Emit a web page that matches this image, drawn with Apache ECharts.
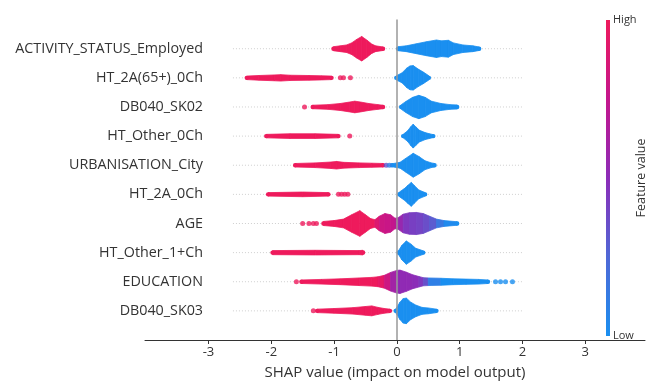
<!DOCTYPE html>
<html>
<head>
<meta charset="utf-8">
<script src="https://cdn.jsdelivr.net/npm/echarts@6/dist/echarts.min.js"></script>
<style>
  html, body { margin: 0; padding: 0; background: #fff; }
  #chart { width: 657px; height: 385px; }
</style>
</head>
<body>
<div id="chart"></div>
<script>
// feature names, top to bottom
const features = ['ACTIVITY_STATUS_Employed', 'HT_2A(65+)_0Ch', 'DB040_SK02', 'HT_Other_0Ch', 'URBANISATION_City',
  'HT_2A_0Ch', 'AGE', 'HT_Other_1+Ch', 'EDUCATION', 'DB040_SK03']
const xTicks = [-3, -2, -1, 0, 1, 2, 3]
const guideRange = [-2.61, 2.01] // faint dotted row guides
// low -> high feature value
const colorStops = ['#1a8ff0', '#4f68d6', '#8c2cb8', '#c4168c', '#ee1a5c']

// swarm profiles: [shap value, half thickness (rows), feature value (optional)]
const activityHigh = [[-1.01, 0.07], [-0.9, 0.1], [-0.8, 0.13], [-0.72, 0.2], [-0.64, 0.32], [-0.56, 0.42], [-0.48, 0.3], [-0.4, 0.16], [-0.34, 0.1], [-0.22, 0.06]]
const activityLow = [[0.02, 0.07], [0.15, 0.1], [0.31, 0.17], [0.47, 0.24], [0.63, 0.3], [0.71, 0.27], [0.82, 0.29], [0.9, 0.2], [1.05, 0.13], [1.21, 0.1], [1.31, 0.06]]
const ht2a65High = [[-2.39, 0.06], [-2.2, 0.08], [-1.95, 0.1], [-1.85, 0.11], [-1.7, 0.09], [-1.4, 0.08], [-1.2, 0.07], [-1.04, 0.06]]
const ht2a65Low = [[-0.01, 0.07], [0.08, 0.17], [0.16, 0.34], [0.21, 0.41], [0.26, 0.42], [0.34, 0.3], [0.42, 0.2], [0.51, 0.07]]
const sk02High = [[-1.34, 0.06], [-1.1, 0.08], [-0.9, 0.12], [-0.75, 0.17], [-0.67, 0.2], [-0.58, 0.17], [-0.45, 0.12], [-0.3, 0.08], [-0.22, 0.06]]
const sk02Low = [[0.07, 0.08], [0.15, 0.2], [0.25, 0.33], [0.35, 0.4], [0.45, 0.33], [0.55, 0.2], [0.7, 0.12], [0.85, 0.08], [0.96, 0.07]]
const other0High = [[-2.08, 0.06], [-1.7, 0.08], [-1.3, 0.08], [-0.93, 0.06]]
const other0Low = [[0.1, 0.06], [0.17, 0.18], [0.22, 0.32], [0.26, 0.41], [0.3, 0.32], [0.36, 0.2], [0.45, 0.12], [0.52, 0.08], [0.58, 0.05]]
const urbanHigh = [[-1.62, 0.06], [-1.3, 0.08], [-1.05, 0.11], [-0.96, 0.13], [-0.85, 0.1], [-0.6, 0.08], [-0.4, 0.07], [-0.22, 0.06]]
const urbanLow = [[-0.08, 0.05], [0.05, 0.1], [0.15, 0.25], [0.26, 0.41], [0.35, 0.3], [0.45, 0.15], [0.55, 0.08], [0.6, 0.06]]
const ht2aHigh = [[-2.05, 0.06], [-1.5, 0.08], [-1.09, 0.06]]
const ht2aLow = [[0.04, 0.08], [0.12, 0.2], [0.18, 0.32], [0.23, 0.41], [0.28, 0.3], [0.35, 0.15], [0.45, 0.06]]
const ageAll = [[-1.17, 0.07, 1], [-1.0, 0.1, 1], [-0.85, 0.15, 1], [-0.72, 0.3, 1], [-0.59, 0.44, 1], [-0.5, 0.3, 1],
  [-0.42, 0.17, 1], [-0.35, 0.13, 0.9], [-0.28, 0.25, 0.8], [-0.19, 0.34, 0.78], [-0.1, 0.3, 0.75], [-0.03, 0.18, 0.7],
  [0.02, 0.2, 0.55], [0.1, 0.32, 0.45], [0.2, 0.37, 0.42], [0.31, 0.38, 0.4], [0.42, 0.34, 0.36], [0.52, 0.25, 0.3],
  [0.63, 0.15, 0.15], [0.75, 0.1, 0.03], [0.96, 0.06, 0]]
const other1High = [[-1.98, 0.07], [-1.3, 0.08], [-0.6, 0.07], [-0.54, 0.08]]
const other1Low = [[0.03, 0.08], [0.08, 0.25], [0.15, 0.4], [0.22, 0.3], [0.3, 0.15], [0.42, 0.06]]
const eduAll = [[-1.52, 0.06, 1], [-1.2, 0.08, 1], [-0.9, 0.1, 1], [-0.6, 0.13, 1], [-0.4, 0.15, 1], [-0.3, 0.17, 0.95],
  [-0.2, 0.22, 0.8], [-0.1, 0.32, 0.6], [0.0, 0.39, 0.52], [0.05, 0.4, 0.52], [0.15, 0.33, 0.52], [0.25, 0.24, 0.5],
  [0.35, 0.18, 0.45], [0.42, 0.14, 0.35], [0.5, 0.13, 0.1], [0.7, 0.12, 0], [0.9, 0.1, 0], [1.1, 0.09, 0],
  [1.3, 0.08, 0], [1.45, 0.06, 0]]
const sk03High = [[-1.27, 0.06], [-1.0, 0.08], [-0.7, 0.11], [-0.5, 0.15], [-0.4, 0.17], [-0.3, 0.12], [-0.2, 0.08], [-0.11, 0.06]]
const sk03Low = [[-0.02, 0.06], [0.05, 0.3], [0.1, 0.42], [0.15, 0.44], [0.22, 0.3], [0.3, 0.2], [0.4, 0.12], [0.5, 0.1], [0.63, 0.06]]

// stray points: [shap value, row, feature value]
const strayDots = [[-0.9, 1, 1], [-0.85, 1, 1], [-0.74, 1, 1], [-1.47, 2, 1], [-0.75, 3, 1], [-0.17, 4, 0.35], [-0.12, 4, 0.1],
  [-0.93, 5, 1], [-0.88, 5, 1], [-0.83, 5, 1], [-0.78, 5, 1], [-1.5, 6, 1], [-1.4, 6, 1], [-1.33, 6, 1], [-1.28, 6, 1],
  [-1.6, 8, 1], [1.57, 8, 0], [1.65, 8, 0], [1.73, 8, 0], [1.84, 8, 0], [-1.33, 9, 1]]

// [row, profile, feature value]
const segments = [
  [0, activityHigh, 1], [0, activityLow, 0], [1, ht2a65High, 1], [1, ht2a65Low, 0],
  [2, sk02High, 1], [2, sk02Low, 0], [3, other0High, 1], [3, other0Low, 0],
  [4, urbanHigh, 1], [4, urbanLow, 0], [5, ht2aHigh, 1], [5, ht2aLow, 0],
  [6, ageAll, 1], [7, other1High, 1], [7, other1Low, 0], [8, eduAll, 1],
  [9, sk03High, 1], [9, sk03Low, 0]
]

// flat data: [x, row, featureValue, half, segmentId]
const swarmData = []
segments.forEach((seg, si) => {
  seg[1].forEach(p => swarmData.push([p[0], seg[0], p[2] != null ? p[2] : seg[2], p[1], si]))
})
const guideData = features.map((f, i) => [guideRange[0], guideRange[1], i])

const renderSwarm = (params, api) => {
  const i = params.dataIndex
  const cur = swarmData[i]
  const nxt = swarmData[i + 1]
  const prv = swarmData[i - 1]
  const color = api.visual('color')
  const children = []
  if (nxt && nxt[4] === cur[4]) {
    const a1 = api.coord([cur[0], cur[1] - cur[3]])
    const a2 = api.coord([nxt[0], nxt[1] - nxt[3]])
    const b2 = api.coord([nxt[0], nxt[1] + nxt[3]])
    const b1 = api.coord([cur[0], cur[1] + cur[3]])
    children.push({
      type: 'polygon',
      shape: { points: [a1, a2, b2, b1] },
      style: { fill: color, stroke: color, lineWidth: 0.8 },
    })
  }
  const first = !prv || prv[4] !== cur[4]
  const last = !nxt || nxt[4] !== cur[4]
  if (first || last) {
    const c = api.coord([cur[0], cur[1]])
    const t = api.coord([cur[0], cur[1] - cur[3]])
    children.push({
      type: 'circle',
      shape: { cx: c[0], cy: c[1], r: Math.max(Math.abs(c[1] - t[1]), 2.2) },
      style: { fill: color },
    })
  }
  return { type: 'group', children }
}

const renderGuide = (params, api) => {
  const p0 = api.coord([api.value(0), api.value(2)])
  const p1 = api.coord([api.value(1), api.value(2)])
  return {
    type: 'line',
    shape: { x1: p0[0], y1: p0[1], x2: p1[0], y2: p1[1] },
    style: { stroke: '#cfcfcf', lineWidth: 1, lineDash: [1, 2] },
  }
}

const myChart = echarts.init(document.getElementById('chart'))
myChart.setOption({
  animation: false,
  textStyle: { fontFamily: 'Open Sans' },
  grid: { left: 145, right: 12, top: 19.6, bottom: 41 },
  visualMap: {
    show: false,
    type: 'continuous',
    min: 0,
    max: 1,
    dimension: 2,
    seriesIndex: [1, 2],
    inRange: { color: colorStops },
  },
  xAxis: {
    type: 'value',
    min: -4.01,
    max: 3.95,
    name: 'SHAP value (impact on model output)',
    nameLocation: 'middle',
    nameGap: 25,
    nameTextStyle: { fontSize: 15, color: '#333' },
    splitLine: { show: false },
    axisLine: { onZero: false, lineStyle: { color: '#333', width: 1 } },
    axisTick: { customValues: xTicks, length: 4, lineStyle: { color: '#333' } },
    axisLabel: { customValues: xTicks, fontSize: 13, color: '#333', margin: 6 },
  },
  yAxis: {
    type: 'value',
    inverse: true,
    min: -1,
    max: 10,
    interval: 1,
    offset: -58,
    splitLine: { show: false },
    axisLine: { show: false },
    axisTick: { show: false },
    axisLabel: {
      fontSize: 14.3,
      color: '#333',
      margin: 0,
      formatter: v => features[v] || '',
    },
  },
  series: [
    {
      name: 'guides',
      type: 'custom',
      renderItem: renderGuide,
      data: guideData,
      encode: { x: [0, 1], y: 2 },
      silent: true,
      z: 1,
      markLine: {
        silent: true,
        symbol: 'none',
        label: { show: false },
        lineStyle: { color: '#999', width: 1.5, type: 'solid' },
        data: [{ xAxis: 0 }],
      },
    },
    {
      name: 'swarm',
      type: 'custom',
      renderItem: renderSwarm,
      data: swarmData,
      encode: { x: 0, y: 1 },
      silent: true,
      z: 3,
    },
    {
      name: 'dots',
      type: 'scatter',
      data: strayDots,
      symbolSize: 5,
      silent: true,
      z: 4,
    },
  ],
  graphic: [
    {
      type: 'rect',
      left: 606,
      top: 20,
      shape: { width: 4, height: 316 },
      style: {
        fill: new echarts.graphic.LinearGradient(0, 1, 0, 0,
          colorStops.map((c, i) => ({ offset: i / (colorStops.length - 1), color: c }))),
      },
    },
    { type: 'text', left: 613, top: 14, style: { text: 'High', fontSize: 11, fill: '#333', fontFamily: 'Open Sans' } },
    { type: 'text', left: 613, top: 330, style: { text: 'Low', fontSize: 11, fill: '#333', fontFamily: 'Open Sans' } },
    {
      type: 'text',
      x: 641,
      y: 178,
      rotation: Math.PI / 2,
      style: { text: 'Feature value', fontSize: 12.5, fill: '#333', fontFamily: 'Open Sans', align: 'center', verticalAlign: 'middle' },
    },
  ],
})
</script>
</body>
</html>
